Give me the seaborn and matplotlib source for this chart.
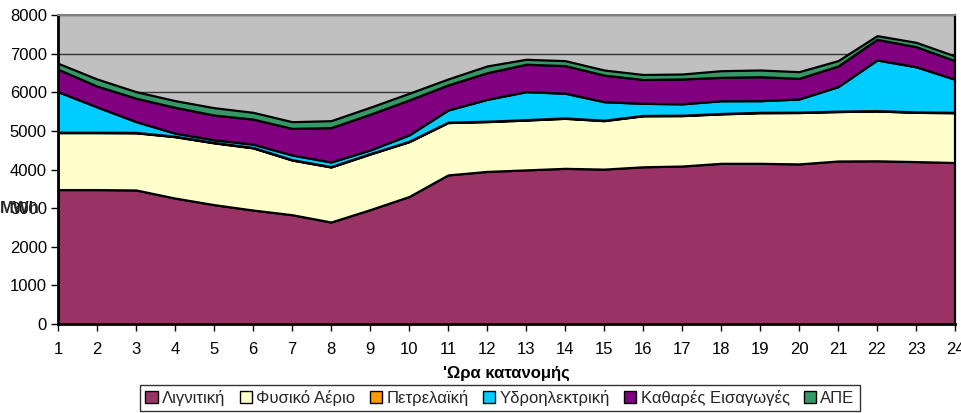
import matplotlib
matplotlib.use("Agg")
import matplotlib.pyplot as plt
from matplotlib.patches import Patch
import seaborn as sns
import numpy as np

hours = list(range(1, 25))
series_names = ["Λιγνιτική", "Φυσικό Αέριο", "Πετρελαϊκή", "Υδροηλεκτρική", "Καθαρές Εισαγωγές", "ΑΠΕ"]
lignite = [3480, 3480, 3470, 3260, 3090, 2950, 2830, 2640, 2960, 3300, 3860, 3950,
           3990, 4030, 4010, 4070, 4090, 4160, 4160, 4145, 4220, 4225, 4205, 4180]
gas = [1475, 1475, 1480, 1590, 1600, 1610, 1415, 1425, 1440, 1420, 1355, 1290,
       1290, 1295, 1255, 1320, 1305, 1280, 1310, 1330, 1280, 1290, 1275, 1290]
oil = [10, 10, 10, 10, 10, 10, 10, 10, 10, 10, 10, 10,
       10, 10, 10, 10, 10, 10, 10, 10, 10, 10, 10, 10]
hydro = [1050, 655, 280, 80, 70, 85, 120, 120, 95, 165, 315, 565,
         725, 640, 480, 313, 295, 330, 302, 340, 635, 1310, 1170, 855]
imports = [580, 540, 605, 670, 640, 650, 690, 890, 925, 905, 650, 690,
           710, 715, 690, 617, 643, 606, 621, 535, 535, 535, 520, 483]
res = [155, 183, 170, 173, 190, 175, 173, 179, 180, 172, 153, 175,
       128, 128, 131, 130, 129, 172, 173, 173, 138, 95, 113, 120]
y_ticks = [0, 1000, 2000, 3000, 4000, 5000, 6000, 7000, 8000]

colors = ["#993366", "#FFFFCC", "#FF9900", "#00CCFF", "#800080", "#339966"]

sns.set_theme(style="white")
plt.rcParams["font.family"] = ["Liberation Sans", "DejaVu Sans"]

fig = plt.figure(figsize=(9.62, 4.13), dpi=100)
ax = fig.add_axes([58 / 962, 1 - 324 / 413, 897 / 962, 309 / 413])
ax.set_facecolor("#C0C0C0")

ax.set_axisbelow(True)
ax.yaxis.grid(True, color="#333333", linewidth=1.0)
ax.xaxis.grid(False)

ax.stackplot(hours, lignite, gas, oil, hydro, imports, res, colors=colors,
             edgecolor="black", linewidth=1.6, zorder=2)

ax.set_xlim(1, 24)
ax.set_ylim(0, 8000)
ax.set_xticks(hours)
ax.set_yticks(y_ticks)
ax.tick_params(axis="both", labelsize=12, colors="black", direction="out",
               length=5, width=1, left=True, bottom=True)
ax.tick_params(axis="x", pad=8)
ax.tick_params(axis="y", pad=3)
for lab in ax.get_xticklabels() + ax.get_yticklabels():
    lab.set_color("black")

for s in ["left", "bottom"]:
    ax.spines[s].set_color("black")
    ax.spines[s].set_linewidth(2)
ax.spines["right"].set_color("black")
ax.spines["right"].set_linewidth(1.6)
ax.spines["top"].set_color("#808080")
ax.spines["top"].set_linewidth(1.5)

ax.set_xlabel("'Ωρα κατανομής", fontsize=12, fontweight="bold", labelpad=6, color="black")
fig.text(0.0, 1 - 208 / 413, "MWh", fontsize=12, fontweight="bold", ha="left", va="center")

handles = [Patch(facecolor=c, edgecolor="black", linewidth=1) for c in colors]
leg = fig.legend(handles, series_names, loc="center", bbox_to_anchor=(500 / 962, 1 - 398 / 413),
                 ncol=6, fontsize=12, frameon=True, fancybox=False, handlelength=0.75,
                 handleheight=0.75, handletextpad=0.25, columnspacing=0.85, borderpad=0.3,
                 borderaxespad=0)
leg.get_frame().set_edgecolor("black")
leg.get_frame().set_linewidth(1)

fig.savefig("out.png", dpi=100, facecolor="white")
